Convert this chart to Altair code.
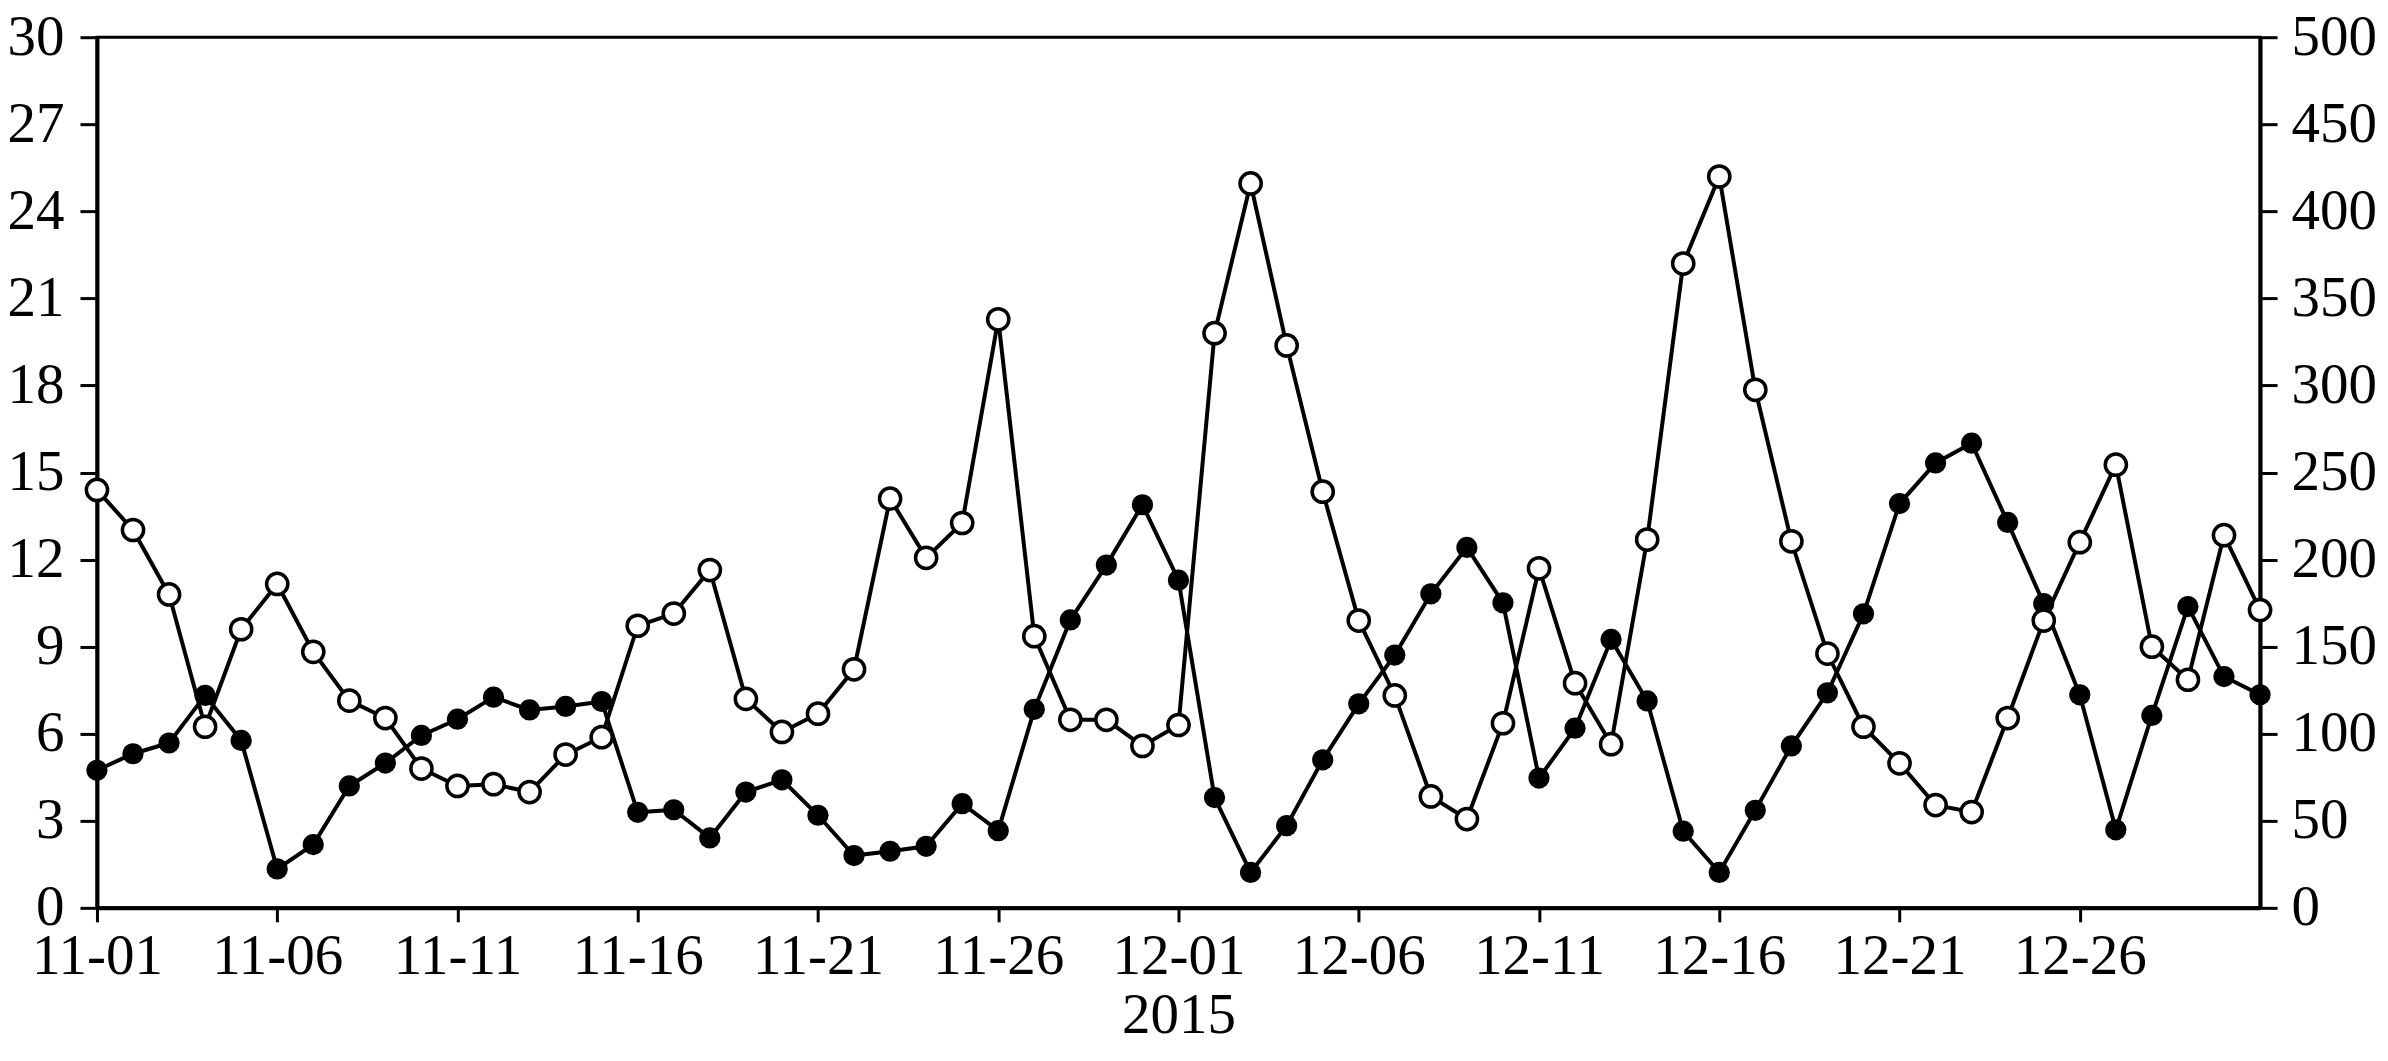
import altair as alt
import pandas as pd

# Dates (daily, 2015-11-01 .. 2015-12-31)
dates = pd.date_range("2015-11-01", "2015-12-31", freq="D").strftime("%Y-%m-%d").tolist()

# Filled-marker series (left axis, 0-30)
filled_vals = [
    4.74, 5.31, 5.68, 7.32, 5.77, 1.34, 2.18, 4.20, 4.99, 5.94,
    6.50, 7.26, 6.82, 6.94, 7.11, 3.29, 3.38, 2.41, 3.99, 4.41,
    3.19, 1.80, 1.95, 2.12, 3.59, 2.66, 6.84, 9.92, 11.81, 13.89,
    11.29, 3.80, 1.22, 2.83, 5.10, 7.03, 8.71, 10.82, 12.42, 10.51,
    4.47, 6.19, 9.25, 7.13, 2.64, 1.22, 3.36, 5.58, 7.41, 10.13,
    13.93, 15.33, 16.01, 13.28, 10.48, 7.34, 2.69, 6.63, 10.38, 7.97, 7.34,
]

# Open-marker series (right axis, 0-500)
open_vals = [
    240, 217, 180, 104, 160, 186, 147, 119, 109, 80,
    70, 71, 66.5, 88, 98, 162, 169, 194, 120, 101,
    111.5, 137, 235, 201, 221, 338, 156, 108, 108, 93,
    105, 330, 416, 323, 239, 165, 122, 64, 51, 106,
    195, 129, 94, 211.5, 370, 420, 297.5, 210.5, 146, 104,
    83, 59, 55, 109, 165, 210, 254.5, 150, 131, 214, 171,
]

x_ticks = ["11-01", "11-06", "11-11", "11-16", "11-21", "11-26",
           "12-01", "12-06", "12-11", "12-16", "12-21", "12-26"]
left_ticks = [0, 3, 6, 9, 12, 15, 18, 21, 24, 27, 30]
right_ticks = [0, 50, 100, 150, 200, 250, 300, 350, 400, 450, 500]
x_title = "2015"

df = pd.DataFrame({"date": dates, "filled": filled_vals, "open": open_vals})

FONT = "Liberation Serif"
FS = 57


def dt(md):
    m, d = md.split("-")
    return alt.DateTime(year=2015, month=int(m), date=int(d), utc=True)


x_enc = alt.X(
    "date:T",
    scale=alt.Scale(type="utc", domain=[dt("11-01"), dt("12-31")]),
    axis=alt.Axis(
        values=[dt(t) for t in x_ticks],
        labelExpr="utcFormat(datum.value, '%m-%d')",
        title=x_title,
        titleFont=FONT,
        titleFontSize=FS,
        titleFontWeight="normal",
        titleColor="black",
        titlePadding=3,
        labelFont=FONT,
        labelFontSize=FS,
        labelColor="black",
        labelPadding=7,
        labelFlush=False,
        labelOverlap=False,
        tickColor="black",
        tickWidth=3,
        tickSize=14,
        domainColor="black",
        domainWidth=4,
        grid=False,
    ),
)


def y_axis(ticks, orient, pad):
    return alt.Axis(
        values=ticks,
        orient=orient,
        title=None,
        labelFont=FONT,
        labelFontSize=FS,
        labelColor="black",
        labelPadding=pad,
        labelOverlap=False,
        tickColor="black",
        tickWidth=3,
        tickSize=17,
        domainColor="black",
        domainWidth=4,
        grid=False,
    )


base = alt.Chart(df).encode(x=x_enc)

filled_layer = base.mark_line(
    color="black",
    strokeWidth=4,
    point=alt.OverlayMarkDef(filled=True, fill="black", color="black", size=450, opacity=1),
).encode(
    y=alt.Y("filled:Q", scale=alt.Scale(domain=[0, 30], nice=False, zero=True),
            axis=y_axis(left_ticks, "left", 16))
)

open_layer = base.mark_line(
    color="black",
    strokeWidth=4,
    point=alt.OverlayMarkDef(filled=True, fill="white", stroke="black",
                             strokeWidth=3.5, size=450, opacity=1),
).encode(
    y=alt.Y("open:Q", scale=alt.Scale(domain=[0, 500], nice=False, zero=True),
            axis=y_axis(right_ticks, "right", 14))
)

chart = alt.layer(filled_layer, open_layer).resolve_scale(y="independent").properties(
    width=2164,
    height=871,
    autosize=alt.AutoSizeParams(type="none"),
    padding={"left": 89, "top": 29, "right": 120, "bottom": 140},
    background="white",
).configure_view(stroke="black", strokeWidth=3)

chart.save("out.html", embed_options={"renderer": "svg", "actions": False})
